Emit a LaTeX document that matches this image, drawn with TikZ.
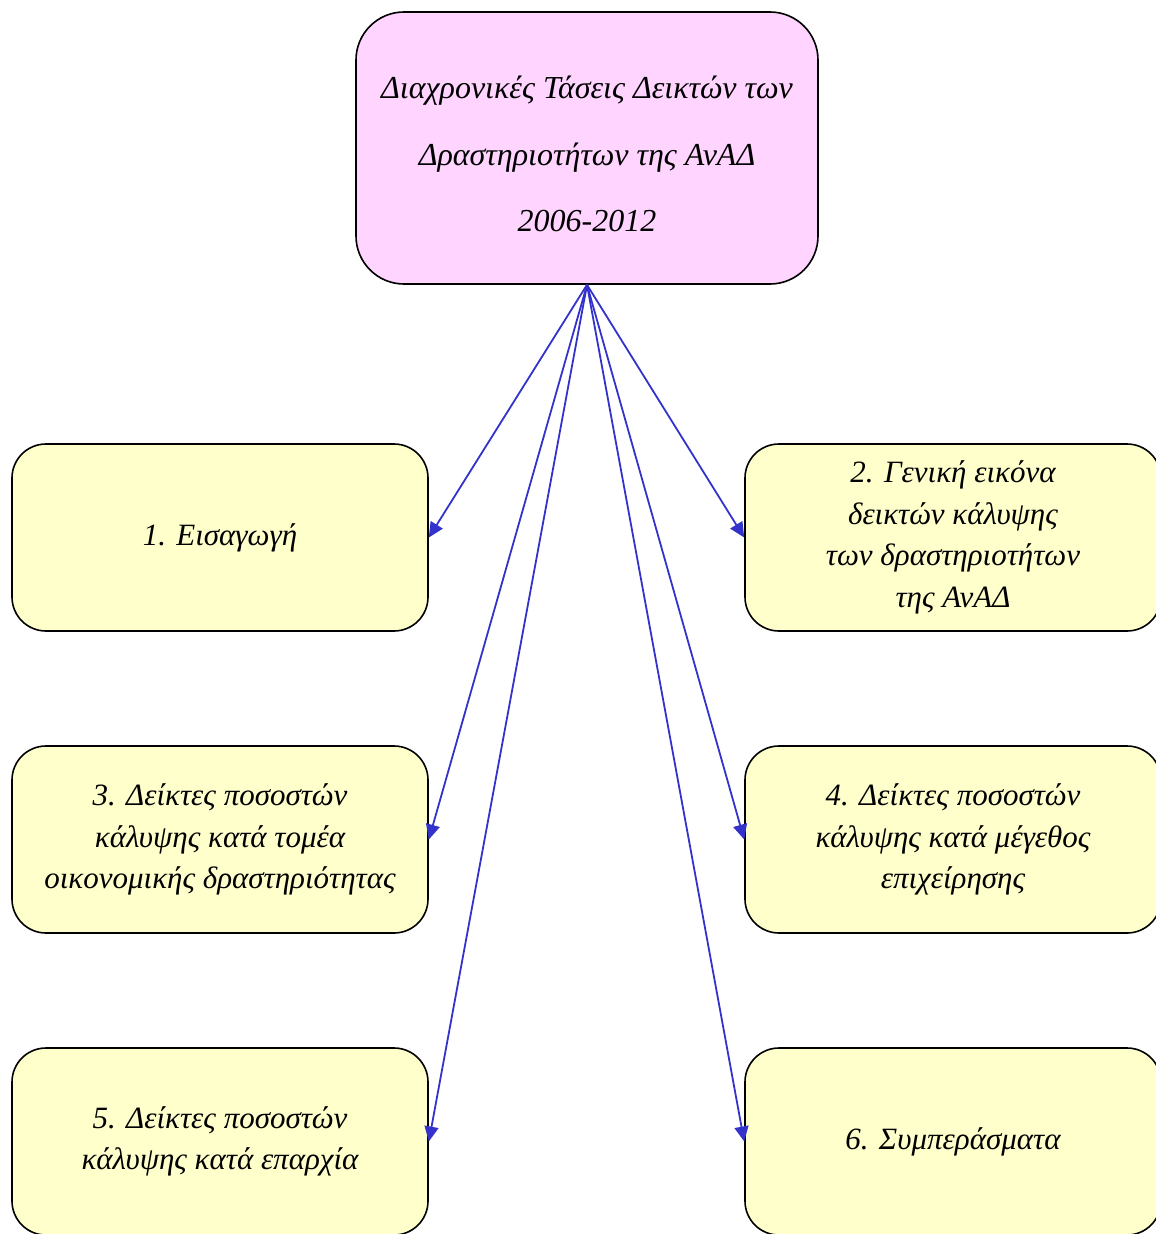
\documentclass[tikz,border=0pt]{standalone}
\usepackage{fontspec}
\setmainfont{Liberation Serif}
\usetikzlibrary{arrows.meta}
\definecolor{topfill}{RGB}{255,213,255}
\definecolor{boxfill}{RGB}{255,255,204}
\definecolor{arrowblue}{RGB}{51,51,204}
\begin{document}
\begin{tikzpicture}[x=1pt,y=-1pt,
  topbox/.style={draw=black, line width=1.6pt, fill=topfill, rounded corners=48pt,
    minimum width=462pt, minimum height=272pt, inner sep=0pt},
  toptext/.style={align=center, inner sep=0pt, font=\fontsize{32}{66.5}\selectfont\itshape},
  itembox/.style={draw=black, line width=1.6pt, fill=boxfill, rounded corners=34pt,
    minimum width=416pt, minimum height=187pt, inner sep=0pt, align=center,
    font=\fontsize{31}{41.5}\selectfont\itshape},
  link/.style={draw=arrowblue, line width=1.8pt, -{Triangle[length=15pt,width=14pt]}}]
\useasboundingbox (0,0) rectangle (1156,1234);
\clip (0,0) rectangle (1156,1234);
\node[topbox] (top) at (587,148) {};
\node[toptext] (title) at (587,154) {Διαχρονικές Τάσεις Δεικτών των\\Δραστηριοτήτων της ΑνΑΔ\\2006-2012};
\node[itembox] (b1) at (220,537.5) {1. Εισαγωγή};
\node[itembox] (b2) at (953,537.5) {2. Γενική εικόνα\\δεικτών κάλυψης\\των δραστηριοτήτων\\της ΑνΑΔ};
\node[itembox] (b3) at (220,839.5) {3. Δείκτες ποσοστών\\κάλυψης κατά τομέα\\οικονομικής δραστηριότητας};
\node[itembox] (b4) at (953,839.5) {4. Δείκτες ποσοστών\\κάλυψης κατά μέγεθος\\επιχείρησης};
\node[itembox] (b5) at (220,1141.5) {5. Δείκτες ποσοστών\\κάλυψης κατά επαρχία};
\node[itembox] (b6) at (953,1141.5) {6. Συμπεράσματα};
\draw[link] (top.south) -- (b1.east);
\draw[link] (top.south) -- (b2.west);
\draw[link] (top.south) -- (b3.east);
\draw[link] (top.south) -- (b4.west);
\draw[link] (top.south) -- (b5.east);
\draw[link] (top.south) -- (b6.west);
\end{tikzpicture}
\end{document}
